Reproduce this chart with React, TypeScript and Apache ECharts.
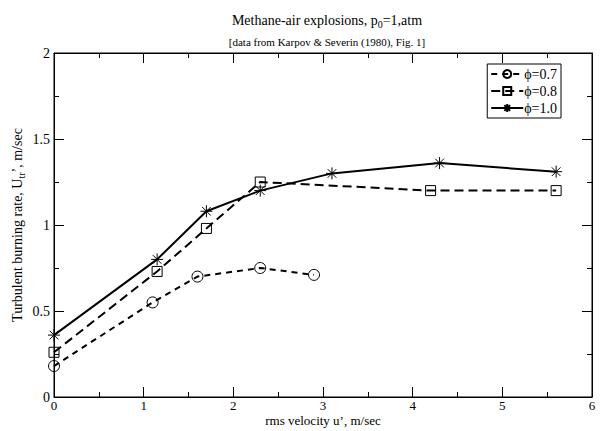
import React, { useEffect, useRef } from "react";
import * as echarts from "echarts";

const phi07X = [0, 1.1, 1.6, 2.3, 2.9];
const phi07Y = [0.18, 0.55, 0.70, 0.75, 0.71];
const phi08X = [0, 1.15, 1.7, 2.3, 4.2, 5.6];
const phi08Y = [0.26, 0.73, 0.98, 1.25, 1.20, 1.20];
const phi10X = [0, 1.15, 1.7, 2.3, 3.1, 4.3, 5.6];
const phi10Y = [0.36, 0.80, 1.08, 1.20, 1.30, 1.36, 1.31];
const seriesNames = ["\u03D5=0.7", "\u03D5=0.8", "\u03D5=1.0"];

const FONT = "'Liberation Serif', 'DejaVu Serif', serif";
const STAR = "path://M0,-5L0,5M-5,0L5,0M-3.6,-3.6L3.6,3.6M-3.6,3.6L3.6,-3.6";

const pairs = (xs: number[], ys: number[]) => xs.map((x, i) => [x, ys[i]]);

export default function App() {
  const ref = useRef<HTMLDivElement>(null);
  useEffect(() => {
    if (!ref.current) return;
    const chart = echarts.init(ref.current, undefined, { renderer: "svg" });
    const axisLine = { show: true, onZero: false, lineStyle: { color: "#000", width: 1 } };
    const tick = { show: true, inside: true, length: 10, lineStyle: { color: "#000" } };
    const minor = { show: true, splitNumber: 2, length: 5, lineStyle: { color: "#000" } };
    chart.setOption({
      animation: false,
      backgroundColor: "#fff",
      textStyle: { fontFamily: FONT },
      title: [
        {
          text: "Methane-air explosions, p{sub|0}=1,atm",
          left: 322,
          top: 6,
          textAlign: "center",
          textStyle: {
            fontFamily: FONT,
            fontSize: 14,
            fontWeight: "normal",
            color: "#000",
            rich: { sub: { fontSize: 10, verticalAlign: "bottom", padding: [8, 0, 0, 0], fontFamily: FONT } },
          },
        },
        {
          text: "[data from Karpov & Severin (1980), Fig. 1]",
          left: 322,
          top: 31,
          textAlign: "center",
          textStyle: { fontFamily: FONT, fontSize: 11, fontWeight: "normal", color: "#000" },
        },
      ],
      grid: {
        left: 54,
        right: 12,
        top: 53,
        bottom: 34,
        show: true,
        borderColor: "#000",
        borderWidth: 1,
        backgroundColor: "transparent",
        containLabel: false,
        outerBoundsMode: "none",
      },
      legend: {
        data: seriesNames,
        orient: "vertical",
        right: 43,
        top: 64,
        backgroundColor: "#fff",
        borderColor: "#000",
        borderWidth: 1,
        borderRadius: 0,
        padding: [3, 4, 3, 3],
        itemGap: 3,
        itemWidth: 32,
        itemHeight: 10,
        textStyle: { fontFamily: FONT, fontSize: 14, color: "#000", padding: [0, 0, 0, -4] },
      },
      xAxis: [
        {
          type: "value",
          min: 0,
          max: 6,
          interval: 1,
          name: "rms velocity u\u2019, m/sec",
          nameLocation: "middle",
          nameGap: 17,
          nameMoveOverlap: false,
          nameTextStyle: { fontFamily: FONT, fontSize: 13, color: "#000" },
          axisLine,
          axisTick: tick,
          minorTick: minor,
          axisLabel: { fontFamily: FONT, fontSize: 13, color: "#000", margin: 2 },
          splitLine: { show: false },
        },
        {
          type: "value",
          position: "top",
          min: 0,
          max: 6,
          interval: 1,
          axisLine,
          axisTick: tick,
          minorTick: minor,
          axisLabel: { show: false },
          splitLine: { show: false },
        },
      ],
      yAxis: [
        {
          type: "value",
          min: 0,
          max: 2,
          interval: 0.5,
          name: "Turbulent burning rate, U{sub|tr}\u2019, m/sec",
          nameLocation: "middle",
          nameGap: 28,
          nameMoveOverlap: false,
          nameTextStyle: {
            fontFamily: FONT,
            fontSize: 14,
            color: "#000",
            rich: { sub: { fontSize: 10, verticalAlign: "bottom", padding: [7, 0, 0, 0], fontFamily: FONT } },
          },
          axisLine,
          axisTick: tick,
          minorTick: minor,
          axisLabel: { fontFamily: FONT, fontSize: 14, color: "#000", margin: 4 },
          splitLine: { show: false },
        },
        {
          type: "value",
          position: "right",
          min: 0,
          max: 2,
          interval: 0.5,
          axisLine,
          axisTick: tick,
          minorTick: minor,
          axisLabel: { show: false },
          splitLine: { show: false },
        },
      ],
      series: [
        {
          name: seriesNames[0],
          type: "line",
          data: pairs(phi07X, phi07Y),
          symbol: "circle",
          symbolSize: 11,
          lineStyle: { color: "#000", width: 2, type: [6, 5] },
          itemStyle: { color: "transparent", borderColor: "#000", borderWidth: 1 },
        },
        {
          name: seriesNames[1],
          type: "line",
          data: pairs(phi08X, phi08Y),
          symbol: "rect",
          symbolSize: 10,
          lineStyle: { color: "#000", width: 2, type: [9, 5] },
          itemStyle: { color: "transparent", borderColor: "#000", borderWidth: 1 },
        },
        {
          name: seriesNames[2],
          type: "line",
          data: pairs(phi10X, phi10Y),
          symbol: STAR,
          symbolSize: 12,
          lineStyle: { color: "#000", width: 2 },
          itemStyle: { color: "transparent", borderColor: "#000", borderWidth: 1 },
        },
      ],
    });
    return () => chart.dispose();
  }, []);
  return (
    <div
      ref={ref}
      style={{ position: "fixed", left: 0, top: 0, width: 604, height: 431 }}
    />
  );
}
